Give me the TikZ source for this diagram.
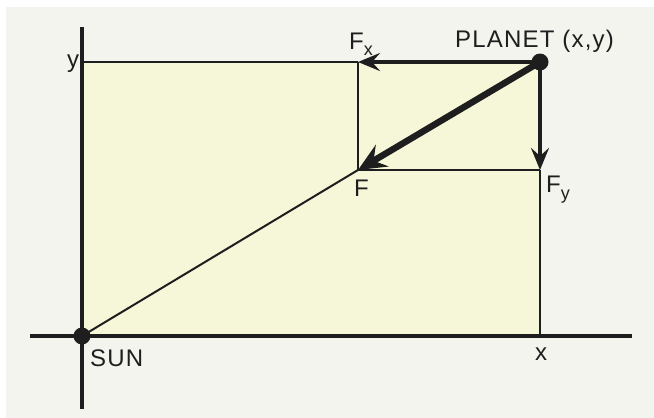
\documentclass[tikz,border=0pt]{standalone}
\usepackage{fontspec}
\setmainfont{Liberation Sans}[LetterSpace=5]
\usetikzlibrary{arrows.meta}
\definecolor{bgc}{HTML}{F3F4EE}
\definecolor{fillc}{HTML}{F6F7D9}
\definecolor{ink}{HTML}{1E1E1E}
\begin{document}
\begin{tikzpicture}[x=1pt,y=-1pt,
  axis/.style={ink,line width=3.2pt},
  thinline/.style={ink,line width=2pt},
  force/.style={ink,line width=3.6pt,-{Stealth[length=22pt,width=18pt,inset=8pt]}},
  bigforce/.style={ink,line width=6.5pt,-{Stealth[length=28pt,width=25pt,inset=10pt]}},
  lbl/.style={text=ink,font=\fontsize{24}{24}\selectfont,inner sep=0pt},
  sub/.style={font=\fontsize{18}{18}\selectfont},
  dot/.style={circle,fill=ink,inner sep=0pt,minimum size=17pt}]
\useasboundingbox (0,0) rectangle (654,418);
\fill[white] (0,0) rectangle (654,418);
\fill[bgc] (6,7) rectangle (654,418);
\fill[fillc] (82,62) rectangle (540,336);
% points
\coordinate (sun) at (82,336);
\coordinate (planet) at (540,62);
\coordinate (fx) at (358,62);
\coordinate (f) at (358,170);
\coordinate (fy) at (540,170);
\coordinate (xa) at (540,336);
\coordinate (ya) at (82,62);
\coordinate (axt) at (82,27);
\coordinate (axb) at (82,409);
\coordinate (axl) at (30,336);
\coordinate (axr) at (632,336);
% axes
\draw[axis] (axt) -- (axb);
\draw[axis] (axl) -- (axr);
% thin lines
\draw[thinline] (ya) -- (fx);
\draw[thinline] (fx) -- (f);
\draw[thinline] (f) -- (fy);
\draw[thinline] (fy) -- (xa);
\draw[thinline] (sun) -- (f);
% forces
\draw[force] (planet) -- (fx);
\draw[force] (planet) -- (fy);
\draw[bigforce] (planet) -- (f);
% dots
\node[dot] (pd) at (planet) {};
\node[dot] (sd) at (sun) {};
% labels
\node[lbl] (ly) at (73,64) {y};
\node[lbl,anchor=base west] (lfx) at (349,49) {F\raisebox{-6pt}{\fontsize{18}{18}\selectfont x}};
\node[lbl,anchor=base west] (lpl) at (455,47) {PLANET (x,y)};
\node[lbl,anchor=base west] (lf) at (354,196) {F};
\node[lbl,anchor=base west] (lfy) at (546,192) {F\raisebox{-7pt}{\fontsize{18}{18}\selectfont y}};
\node[lbl,anchor=base west] (lsun) at (90,366) {SUN};
\node[lbl,anchor=base] (lx) at (541,360) {x};
\end{tikzpicture}
\end{document}
